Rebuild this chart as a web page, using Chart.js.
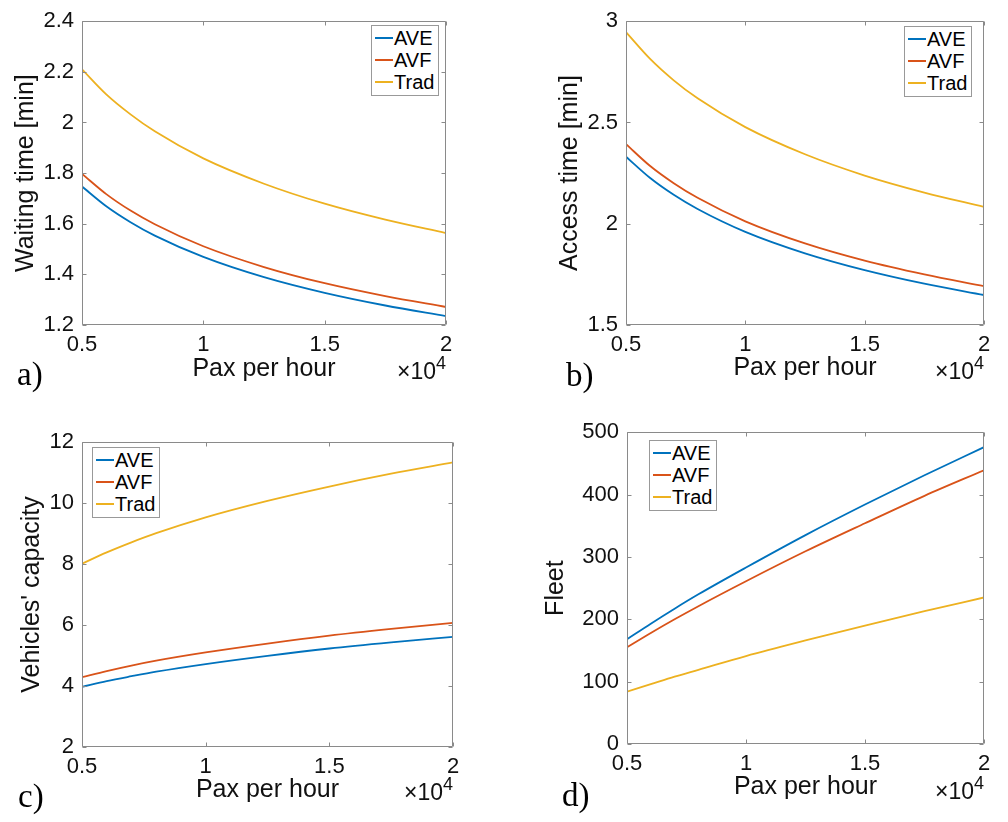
<!DOCTYPE html>
<html lang="en">
<head>
  <meta charset="UTF-8">
  <title>Pax per hour - AVE / AVF / Trad</title>
  <script src="https://cdn.jsdelivr.net/npm/chart.js"></script>
  <style>
    html, body { margin: 0; padding: 0; background: #fff; }
    #page { position: relative; width: 1008px; height: 822px; overflow: hidden; font-family: "Liberation Sans", Arial, sans-serif; }
    .panel { position: absolute; width: 504px; height: 411px; }
    .legend { position: absolute; background: #fff; border: 1px solid #999; padding: 1px 4px 2px 3px; font-size: 20px; line-height: 22px; color: #000; }
    .legend .row { display: flex; align-items: center; white-space: nowrap; }
    .legend .swatch { display: inline-block; width: 18px; height: 2px; margin-right: 1px; }
    .mult { position: absolute; font-size: 23px; color: #111; white-space: nowrap; }
    .mult sup { font-size: 18px; position: relative; top: -5px; vertical-align: top; }
    .tag { position: absolute; font-family: "Liberation Serif", "Times New Roman", serif; font-size: 33px; color: #000; }
  </style>
</head>
<body>
<div id="page"></div>

<script>
  // data (x in passengers per hour)
  const pax = [5000, 6000, 7000, 8000, 10000, 12500, 15000, 17500, 20000];
  const seriesNames = ['AVE', 'AVF', 'Trad'];
  const seriesColors = ['#0072BD', '#D95319', '#EDB120'];
  const xTicks = [5000, 10000, 15000, 20000];

  const waitAVE  = [1.747, 1.669, 1.606, 1.553, 1.469, 1.389, 1.327, 1.277, 1.235];
  const waitAVF  = [1.797, 1.717, 1.652, 1.598, 1.511, 1.429, 1.365, 1.314, 1.271];
  const waitTrad = [2.210, 2.111, 2.032, 1.965, 1.858, 1.758, 1.679, 1.616, 1.563];

  const accessAVE  = [2.331, 2.227, 2.143, 2.073, 1.960, 1.854, 1.771, 1.704, 1.648];
  const accessAVF  = [2.393, 2.286, 2.200, 2.128, 2.012, 1.903, 1.818, 1.750, 1.692];
  const accessTrad = [2.946, 2.815, 2.708, 2.619, 2.477, 2.343, 2.238, 2.154, 2.083];

  const capAVE  = [3.97, 4.16, 4.32, 4.47, 4.72, 4.99, 5.23, 5.43, 5.61];
  const capAVF  = [4.29, 4.49, 4.67, 4.83, 5.10, 5.39, 5.65, 5.87, 6.07];
  const capTrad = [8.01, 8.38, 8.71, 9.01, 9.53, 10.07, 10.54, 10.96, 11.33];

  const fleetAVE  = [168, 193, 217, 240, 283, 335, 384, 431, 476];
  const fleetAVF  = [155, 178, 200, 221, 261, 309, 354, 398, 439];
  const fleetTrad = [84, 96, 108, 119, 141, 166, 190, 213, 235];

  const waitTicks   = [1.2, 1.4, 1.6, 1.8, 2, 2.2, 2.4];
  const accessTicks = [1.5, 2, 2.5, 3];
  const capTicks    = [2, 4, 6, 8, 10, 12];
  const fleetTicks  = [0, 100, 200, 300, 400, 500];

  // layout of the four panels
  const panels = [
    { tag: 'a)', left: 0, top: 0, yTitle: 'Waiting time [min]', series: [waitAVE, waitAVF, waitTrad], yTicks: waitTicks,
      yWidth: 82, pad: { top: 20, right: 58 }, xHeight: 86, yTitlePad: 11, xTitlePad: 27,
      legend: { left: 371, top: 25 }, mult: { right: 562, top: 358 }, tagPos: { left: 17, top: 356 } },
    { tag: 'b)', left: 504, top: 0, yTitle: 'Access time [min]', series: [accessAVE, accessAVF, accessTrad], yTicks: accessTicks,
      yWidth: 122, pad: { top: 20, right: 24 }, xHeight: 86, yTitlePad: 51, xTitlePad: 28,
      legend: { left: 904, top: 26 }, mult: { right: 24, top: 358 }, tagPos: { left: 566, top: 357 } },
    { tag: 'c)', left: 0, top: 411, yTitle: "Vehicles' capacity", series: [capAVE, capAVF, capTrad], yTicks: capTicks,
      yWidth: 82, pad: { top: 31, right: 51 }, xHeight: 75, yTitlePad: 17, xTitlePad: 17,
      legend: { left: 92, top: 447 }, mult: { right: 555, top: 779 }, tagPos: { left: 18, top: 778 } },
    { tag: 'd)', left: 504, top: 411, yTitle: 'Fleet', series: [fleetAVE, fleetAVF, fleetTrad], yTicks: fleetTicks,
      yWidth: 123, pad: { top: 17, right: 24 }, xHeight: 78, yTitlePad: 37, xTitlePad: 20,
      legend: { left: 649, top: 440 }, mult: { right: 24, top: 778 }, tagPos: { left: 562, top: 777 } }
  ];

  const fmt = v => String(+Number(v).toFixed(2));

  // MATLAB style box with inward ticks on all four sides
  const frameTicks = {
    id: 'frameTicks',
    afterDraw(chart) {
      const { ctx, chartArea: a, scales: { x, y } } = chart;
      const L = Math.round(a.left) + 0.5, R = Math.round(a.right) - 0.5;
      const T = Math.round(a.top) + 0.5, B = Math.round(a.bottom) - 0.5;
      const len = 4;
      ctx.save();
      ctx.strokeStyle = '#8a8a8a';
      ctx.lineWidth = 1;
      ctx.beginPath();
      ctx.rect(L, T, R - L, B - T);
      x.ticks.forEach(t => {
        const px = Math.round(x.getPixelForValue(t.value)) + 0.5;
        ctx.moveTo(px, B); ctx.lineTo(px, B - len);
        ctx.moveTo(px, T); ctx.lineTo(px, T + len);
      });
      y.ticks.forEach(t => {
        const py = Math.round(y.getPixelForValue(t.value)) + 0.5;
        ctx.moveTo(L, py); ctx.lineTo(L + len, py);
        ctx.moveTo(R, py); ctx.lineTo(R - len, py);
      });
      ctx.stroke();
      ctx.restore();
    }
  };

  const page = document.getElementById('page');

  panels.forEach(p => {
    const box = document.createElement('div');
    box.className = 'panel';
    box.style.left = p.left + 'px';
    box.style.top = p.top + 'px';
    const canvas = document.createElement('canvas');
    canvas.width = 504;
    canvas.height = 411;
    box.appendChild(canvas);
    page.appendChild(box);

    const yTicks = p.yTicks;
    new Chart(canvas.getContext('2d'), {
      type: 'line',
      data: {
        datasets: p.series.map((vals, i) => ({
          label: seriesNames[i],
          data: pax.map((x, k) => ({ x: x, y: vals[k] })),
          borderColor: seriesColors[i],
          borderWidth: 1.8,
          pointRadius: 0,
          cubicInterpolationMode: 'monotone',
          fill: false
        }))
      },
      options: {
        responsive: false,
        animation: false,
        devicePixelRatio: 1,
        layout: { padding: { left: 0, top: p.pad.top, right: p.pad.right, bottom: 0 } },
        plugins: { legend: { display: false }, tooltip: { enabled: false } },
        scales: {
          x: {
            type: 'linear',
            min: xTicks[0],
            max: xTicks[xTicks.length - 1],
            afterBuildTicks: s => { s.ticks = xTicks.map(v => ({ value: v })); },
            afterFit: s => { s.height = p.xHeight; },
            grid: { display: false, drawTicks: false },
            border: { display: false },
            ticks: {
              color: '#111',
              padding: 7,
              maxRotation: 0,
              font: { family: '"Liberation Sans", Arial, sans-serif', size: 22 },
              callback: v => fmt(v / 10000)
            },
            title: {
              display: true,
              text: 'Pax per hour',
              color: '#111',
              padding: { top: 0, bottom: p.xTitlePad },
              font: { family: '"Liberation Sans", Arial, sans-serif', size: 25 }
            }
          },
          y: {
            type: 'linear',
            min: yTicks[0],
            max: yTicks[yTicks.length - 1],
            afterBuildTicks: s => { s.ticks = yTicks.map(v => ({ value: v })); },
            afterFit: s => { s.width = p.yWidth; },
            grid: { display: false, drawTicks: false },
            border: { display: false },
            ticks: {
              color: '#111',
              padding: 8,
              font: { family: '"Liberation Sans", Arial, sans-serif', size: 22 },
              callback: v => fmt(v)
            },
            title: {
              display: true,
              text: p.yTitle,
              color: '#111',
              padding: { top: p.yTitlePad, bottom: 0 },
              font: { family: '"Liberation Sans", Arial, sans-serif', size: 25 }
            }
          }
        }
      },
      plugins: [frameTicks]
    });

    // legend box
    const lg = document.createElement('div');
    lg.className = 'legend';
    lg.style.left = p.legend.left + 'px';
    lg.style.top = p.legend.top + 'px';
    seriesNames.forEach((name, i) => {
      const row = document.createElement('div');
      row.className = 'row';
      const sw = document.createElement('span');
      sw.className = 'swatch';
      sw.style.backgroundColor = seriesColors[i];
      row.appendChild(sw);
      row.appendChild(document.createTextNode(name));
      lg.appendChild(row);
    });
    page.appendChild(lg);

    // x10^4 multiplier, right aligned to the axis box
    const m = document.createElement('div');
    m.className = 'mult';
    m.style.right = p.mult.right + 'px';
    m.style.top = p.mult.top + 'px';
    m.innerHTML = '\u00d710<sup>4</sup>';
    page.appendChild(m);

    // panel tag
    const t = document.createElement('div');
    t.className = 'tag';
    t.style.left = p.tagPos.left + 'px';
    t.style.top = p.tagPos.top + 'px';
    t.textContent = p.tag;
    page.appendChild(t);
  });
</script>
</body>
</html>
